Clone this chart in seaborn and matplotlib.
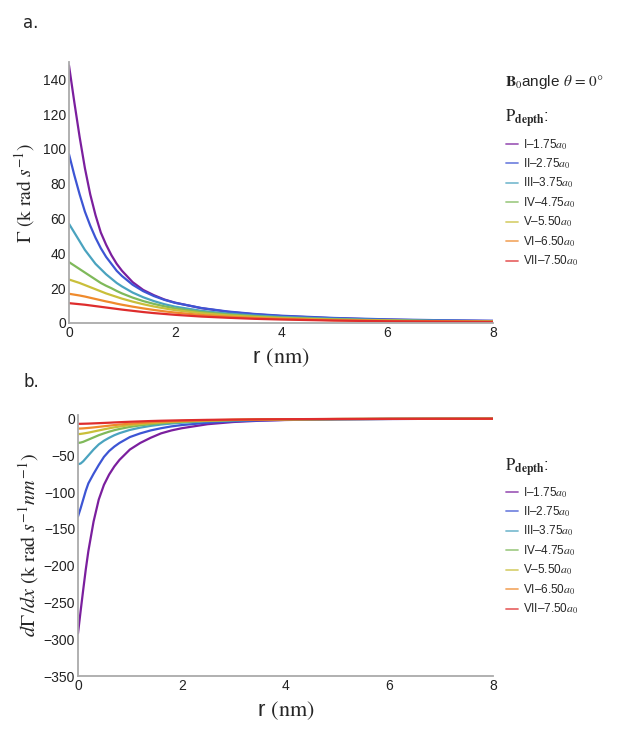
import numpy as np
import pandas as pd
import matplotlib
matplotlib.use("Agg")
import matplotlib.pyplot as plt
from matplotlib.lines import Line2D
import seaborn as sns

sns.set_style("white")
plt.rcParams['font.family'] = ['Liberation Sans', 'DejaVu Sans']
plt.rcParams['mathtext.fontset'] = 'stix'

depths = ["I\u20131.75$a_0$", "II\u20132.75$a_0$", "III\u20133.75$a_0$", "IV\u20134.75$a_0$",
          "V\u20135.50$a_0$", "VI\u20136.50$a_0$", "VII\u20137.50$a_0$"]
colors = ["#7b1f9e", "#3d55d4", "#4aa3bf", "#7fb95a", "#c9bf3a", "#ef8a2c", "#de2d2d"]

# panel a: relaxation rate (k rad/s)
r_a = [0, 0.1, 0.2, 0.3, 0.4, 0.5, 0.6, 0.7, 0.8, 0.9, 1.0, 1.2, 1.4, 1.6, 1.8, 2.0,
       2.5, 3.0, 3.5, 4.0, 5.0, 6.0, 7.0, 8.0]
gamma_I = [148, 127, 107, 89, 74, 62, 52, 45, 39, 34, 30, 23.5, 19, 16, 13.5, 11.7,
           8.5, 6.4, 5.0, 4.0, 2.7, 1.9, 1.4, 1.1]
gamma_II = [97, 85, 74, 64, 56, 49, 43, 38, 34, 30, 27, 22, 18.3, 15.5, 13.3, 11.6,
            8.6, 6.6, 5.2, 4.2, 2.9, 2.1, 1.6, 1.3]
gamma_III = [57, 52, 47, 42, 38, 34, 31, 28, 25.5, 23, 21, 17.5, 14.8, 12.6, 10.8, 9.4,
             7.0, 5.4, 4.3, 3.5, 2.4, 1.7, 1.3, 1.0]
gamma_IV = [35, 33, 31, 29, 27, 25, 23, 21.4, 20, 18.4, 17, 14.6, 12.6, 11, 9.6, 8.4,
            6.3, 4.9, 3.9, 3.1, 2.1, 1.5, 1.1, 0.9]
gamma_V = [25, 24, 23, 21.8, 20.6, 19.4, 18.2, 17, 16, 15, 14, 12.3, 10.8, 9.5, 8.4, 7.4,
           5.6, 4.4, 3.5, 2.8, 1.9, 1.4, 1.0, 0.8]
gamma_VI = [16.8, 16.3, 15.8, 15.2, 14.5, 13.8, 13.1, 12.4, 11.8, 11.1, 10.5, 9.4, 8.4, 7.5, 6.7, 6.0,
            4.6, 3.6, 2.9, 2.4, 1.6, 1.2, 0.9, 0.7]
gamma_VII = [11.4, 11.1, 10.8, 10.5, 10.1, 9.7, 9.3, 8.9, 8.5, 8.1, 7.7, 7.0, 6.3, 5.7, 5.2, 4.7,
             3.7, 3.0, 2.4, 2.0, 1.4, 1.0, 0.8, 0.6]

# panel b: derivative
r_b = [0, 0.05, 0.1, 0.15, 0.2, 0.3, 0.4, 0.5, 0.6, 0.7, 0.8, 1.0, 1.2, 1.4, 1.6, 1.8,
       2.0, 2.5, 3.0, 3.5, 4.0, 5.0, 6.0, 7.0, 8.0]
dg_I = [-292, -262, -233, -205, -180, -140, -110, -90, -76, -65, -56, -42, -33, -26, -20, -16,
        -13, -7.5, -4.5, -2.8, -1.8, -0.8, -0.4, -0.2, -0.1]
dg_II = [-133, -122, -110, -98, -88, -75, -63, -52, -44, -38, -33, -25, -20, -16, -13, -10.5,
         -8.7, -5.5, -3.6, -2.4, -1.6, -0.8, -0.4, -0.2, -0.1]
dg_III = [-62, -61, -58, -54, -50, -42, -35, -30, -26, -22.5, -19.7, -15.3, -12.2, -9.8, -8, -6.6,
          -5.5, -3.5, -2.3, -1.6, -1.1, -0.6, -0.3, -0.2, -0.1]
dg_IV = [-33, -32.5, -31.5, -30, -28.5, -25.5, -22.5, -20, -17.7, -15.7, -14, -11.2, -9.1, -7.5, -6.2, -5.2,
         -4.4, -2.9, -2.0, -1.4, -1.0, -0.5, -0.3, -0.2, -0.1]
dg_V = [-21, -20.7, -20.2, -19.6, -19, -17.5, -16, -14.5, -13.1, -11.8, -10.7, -8.8, -7.3, -6.1, -5.1, -4.3,
        -3.7, -2.5, -1.7, -1.2, -0.9, -0.5, -0.3, -0.2, -0.1]
dg_VI = [-13.5, -13.4, -13.2, -12.9, -12.6, -11.9, -11.1, -10.3, -9.5, -8.7, -8.0, -6.8, -5.8, -4.9, -4.2, -3.6,
         -3.1, -2.1, -1.5, -1.1, -0.8, -0.4, -0.25, -0.15, -0.1]
dg_VII = [-7, -7, -6.9, -6.8, -6.7, -6.4, -6.1, -5.8, -5.5, -5.1, -4.8, -4.2, -3.7, -3.2, -2.8, -2.5,
          -2.2, -1.6, -1.2, -0.9, -0.7, -0.4, -0.25, -0.15, -0.1]

gam = [gamma_I, gamma_II, gamma_III, gamma_IV, gamma_V, gamma_VI, gamma_VII]
dgam = [dg_I, dg_II, dg_III, dg_IV, dg_V, dg_VI, dg_VII]

dfa = pd.concat([pd.DataFrame({'r': r_a, 'v': g, 'depth': d}) for g, d in zip(gam, depths)])
dfb = pd.concat([pd.DataFrame({'r': r_b, 'v': g, 'depth': d}) for g, d in zip(dgam, depths)])

W, H = 623, 736
fig = plt.figure(figsize=(W / 100, H / 100), dpi=100)
ax1 = fig.add_axes([69 / W, 1 - 323 / H, 424 / W, 261 / H])
ax2 = fig.add_axes([78 / W, 1 - 676 / H, 415 / W, 261 / H])

for ax, df in [(ax1, dfa), (ax2, dfb)]:
    sns.lineplot(data=df, x='r', y='v', hue='depth', palette=colors, linewidth=1.6,
                 legend=False, ax=ax, sort=False)
    sns.despine(ax=ax)
    for s in ['left', 'bottom']:
        ax.spines[s].set_color('#aaaaaa')
        ax.spines[s].set_linewidth(1.3)
    ax.set_xlim(0, 8)
    ax.set_xticks([0, 2, 4, 6, 8])
    ax.tick_params(length=0, labelsize=10, labelcolor='#222222', pad=2)
    ax.set_xlabel(r"r $(\mathrm{nm})$", fontsize=16, labelpad=5)

ax1.set_ylim(0, 150)
ax1.set_yticks(range(0, 141, 20))
ax1.set_ylabel(r"$\Gamma\ (\mathrm{k\ rad}\ s^{-1})$", fontsize=14, labelpad=4)
ax2.set_ylim(-350, 5)
ax2.set_yticks(range(-350, 1, 50))
ax2.set_yticklabels([str(v).replace('-', '\u2212') for v in range(-350, 1, 50)])
ax2.set_ylabel(r"$d\Gamma\,/dx\ (\mathrm{k\ rad}\ s^{-1} nm^{-1})$", fontsize=14.5, labelpad=2)

fig.text(23 / W, 1 - 23 / H, "a.", fontsize=12, family='DejaVu Sans', va='center')
fig.text(23 / W, 1 - 382 / H, "b.", fontsize=12, family='DejaVu Sans', va='center')

fig.text(505 / W, 1 - 82 / H, r"$\mathbf{B}_0$angle $\theta\,=\,0°$", fontsize=11, va='center')

handles = [Line2D([0], [0], color=c, lw=1.3, alpha=0.7) for c in colors]
for ytitle, ytop in [(119, 137), (468, 485)]:
    fig.text(505 / W, 1 - ytitle / H, r"$\mathrm{P}_{\mathbf{depth}}$:", fontsize=12, va='center')
    fig.legend(handles, depths, loc='upper left', bbox_to_anchor=(506 / W, 1 - ytop / H),
               frameon=False, fontsize=8.5, handlelength=1.0, handletextpad=0.4,
               labelspacing=0.42, borderaxespad=0, borderpad=0)

fig.savefig("out.png", dpi=100)
